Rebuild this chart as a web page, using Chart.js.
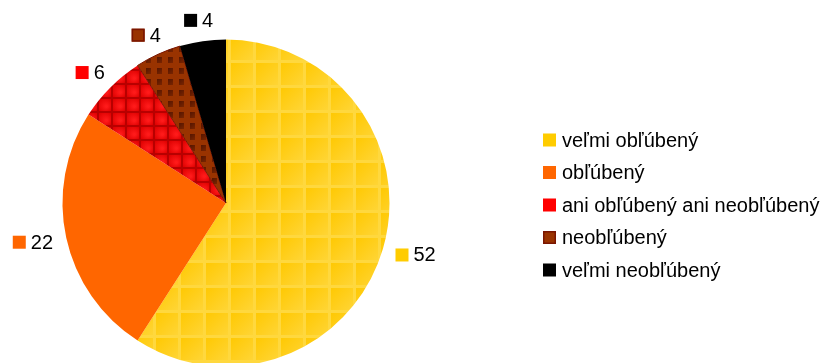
<!DOCTYPE html>
<html>
<head>
<meta charset="utf-8">
<script src="https://cdn.jsdelivr.net/npm/chart.js@4/dist/chart.umd.min.js"></script>
<style>
    html, body { margin: 0; padding: 0; background: #fff; overflow: hidden; }
    #wrap { width: 821px; height: 363px; overflow: hidden; }
</style>
</head>
<body>
<div id="wrap"><canvas id="pieChart" width="821" height="367"></canvas></div>
<script>
// Chart data
const categories = ['veľmi obľúbený', 'obľúbený', 'ani obľúbený ani neobľúbený', 'neobľúbený', 'veľmi neobľúbený'];
const counts = [52, 22, 6, 4, 4];

// Solid swatch colours (legend + value labels)
const swatchColors = ['#FFCC00', '#FF6600', '#FF0000', '#993300', '#000000'];
const swatchBorders = [null, null, null, '#7A1500', null];

const FONT = '20px "Liberation Sans", Arial, sans-serif';

// Build a repeating tile pattern
function makePattern(size, drawTile, offX, offY) {
    const tile = document.createElement('canvas');
    tile.width = size;
    tile.height = size;
    drawTile(tile.getContext('2d'), size);
    const pat = document.createElement('canvas').getContext('2d').createPattern(tile, 'repeat');
    pat.setTransform(new DOMMatrix().translate(offX, offY));
    return pat;
}

const yellowPattern = makePattern(25, (c, s) => {
    c.fillStyle = '#FFD83E';
    c.fillRect(0, 0, s, s);
    const g = c.createLinearGradient(0, 0, s, s);
    g.addColorStop(0, '#FFC800');
    g.addColorStop(1, '#FFD63A');
    c.fillStyle = g;
    c.fillRect(1, 1, s - 3, s - 3);
}, 5, 12);

const redPattern = makePattern(14, (c, s) => {
    c.fillStyle = '#B80000';
    c.fillRect(0, 0, s, s);
    const g = c.createRadialGradient(s * 0.6, s * 0.6, 1, s * 0.5, s * 0.5, s * 0.6);
    g.addColorStop(0, '#FF1A1A');
    g.addColorStop(1, '#DD0000');
    c.fillStyle = g;
    c.fillRect(1, 1, s - 2, s - 2);
}, 0, 0);

const brownPattern = makePattern(11, (c, s) => {
    c.fillStyle = '#993300';
    c.fillRect(0, 0, s, s);
    const g = c.createLinearGradient(3, 2, 8, 8);
    g.addColorStop(0, '#551500');
    g.addColorStop(1, '#7A2500');
    c.fillStyle = g;
    c.fillRect(3, 2, 5, 6);
}, 0, 0);

const sliceFills = [yellowPattern, '#FF6600', redPattern, brownPattern, '#000000'];

function drawSwatch(ctx, i, x, y, size) {
    ctx.fillStyle = swatchColors[i];
    ctx.fillRect(x, y, size, size);
    if (swatchBorders[i]) {
        ctx.strokeStyle = swatchBorders[i];
        ctx.lineWidth = 1.5;
        ctx.strokeRect(x + 0.75, y + 0.75, size - 1.5, size - 1.5);
    }
}

// Value labels next to each slice and the legend on the right
const labelsAndLegend = {
    id: 'labelsAndLegend',
    afterDraw(chart) {
        const ctx = chart.ctx;
        const arcs = chart.getDatasetMeta(0).data;
        ctx.save();
        ctx.font = FONT;
        ctx.textBaseline = 'middle';
        ctx.textAlign = 'left';

        arcs.forEach((arc, i) => {
            const mid = (arc.startAngle + arc.endAngle) / 2;
            const dist = arc.outerRadius + 14;
            const text = String(counts[i]);
            const box = 13, gap = 5, h = 14;
            const w = box + gap + ctx.measureText(text).width;
            // anchor just outside the rim, label pushed outward from it
            const cx = arc.x + Math.cos(mid) * dist + Math.cos(mid) * w / 2;
            const cy = arc.y + Math.sin(mid) * dist + Math.sin(mid) * h / 2;
            const left = cx - w / 2;
            drawSwatch(ctx, i, left, cy - box / 2, box);
            ctx.fillStyle = '#000';
            ctx.fillText(text, left + box + gap, cy + 1);
        });

        const legendX = 543, legendTop = 140, rowGap = 32.5, box = 13;
        categories.forEach((name, i) => {
            const y = legendTop + i * rowGap;
            drawSwatch(ctx, i, legendX, y - box / 2, box);
            ctx.fillStyle = '#000';
            ctx.fillText(name, legendX + 19, y + 1);
        });
        ctx.restore();
    }
};

new Chart(document.getElementById('pieChart'), {
    type: 'pie',
    data: {
        labels: categories,
        datasets: [{
            data: counts,
            backgroundColor: sliceFills,
            borderWidth: [0, 0, 0, 1, 0],
            borderColor: '#7A1500',
            hoverOffset: 0,
            offset: 0
        }]
    },
    options: {
        responsive: false,
        animation: false,
        devicePixelRatio: 1,
        layout: { padding: { left: 62, right: 431, top: 39, bottom: 0 } },
        plugins: {
            legend: { display: false },
            tooltip: { enabled: false }
        }
    },
    plugins: [labelsAndLegend]
});
</script>
</body>
</html>
